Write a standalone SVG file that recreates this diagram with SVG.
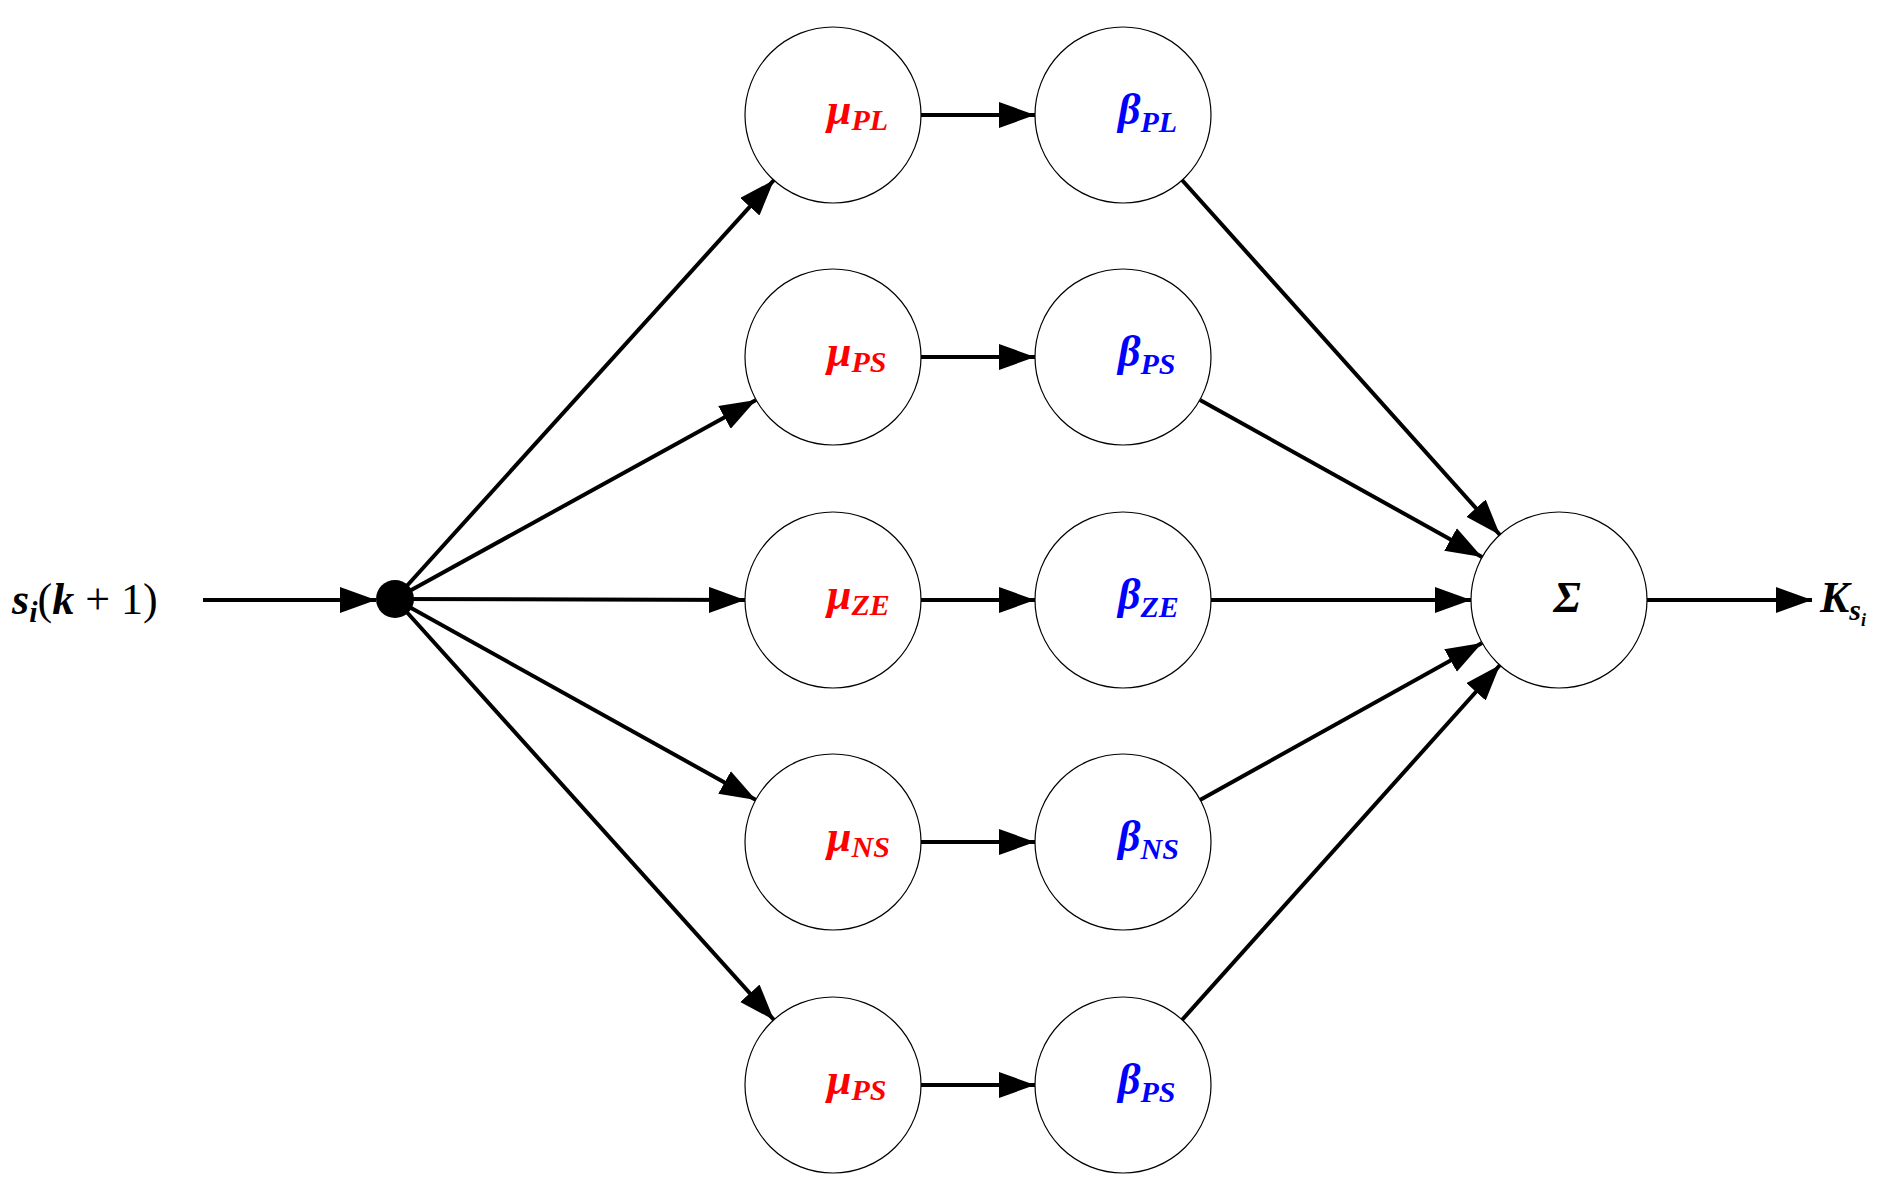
<svg xmlns="http://www.w3.org/2000/svg" width="1892" height="1191" viewBox="0 0 1892 1191">
<style>
.n{fill:#fff;stroke:#000;stroke-width:1.2}
.c line{stroke:#000;stroke-width:4;marker-end:url(#a)}
text{font-family:"Liberation Serif","DejaVu Serif",serif;font-size:44px;font-style:italic;font-weight:bold}
.m{fill:#f00}.b{fill:#00f}
.s{font-size:30px}
</style>
<defs><marker id="a" markerUnits="userSpaceOnUse" markerWidth="38" markerHeight="28" refX="36" refY="13" orient="auto"><path d="M0,0 L36,13 L0,26 z"/></marker></defs>
<rect width="1892" height="1191" fill="#fff"/>
<g class="c" id="connectors">
<line x1="203" y1="600" x2="376" y2="600"/>
<line x1="395" y1="599" x2="774" y2="180"/>
<line x1="395" y1="599" x2="756" y2="400"/>
<line x1="395" y1="599" x2="745" y2="600"/>
<line x1="395" y1="599" x2="756" y2="800"/>
<line x1="395" y1="599" x2="774" y2="1020"/>
<line x1="921" y1="115" x2="1035" y2="115"/>
<line x1="921" y1="357" x2="1035" y2="357"/>
<line x1="921" y1="600" x2="1035" y2="600"/>
<line x1="921" y1="842" x2="1035" y2="842"/>
<line x1="921" y1="1085" x2="1035" y2="1085"/>
<line x1="1182" y1="180" x2="1500" y2="535"/>
<line x1="1200" y1="400" x2="1482" y2="557"/>
<line x1="1211" y1="600" x2="1471" y2="600"/>
<line x1="1200" y1="800" x2="1482" y2="643"/>
<line x1="1182" y1="1020" x2="1500" y2="665"/>
<line x1="1647" y1="600" x2="1812" y2="600"/>
</g>
<g id="input"><text x="12" y="614" font-weight="normal">s<tspan class="s" dy="8">i</tspan><tspan dy="-8" font-style="normal" font-weight="normal">(</tspan>k<tspan font-style="normal" font-weight="normal"> + 1)</tspan></text></g>
<g id="dot"><circle cx="395" cy="599" r="19"/></g>
<g id="mu1"><circle class="n" cx="833" cy="115" r="88"/><text class="m" x="827" y="124">μ<tspan class="s" dy="6">PL</tspan></text></g>
<g id="mu2"><circle class="n" cx="833" cy="357" r="88"/><text class="m" x="827" y="366">μ<tspan class="s" dy="6">PS</tspan></text></g>
<g id="mu3"><circle class="n" cx="833" cy="600" r="88"/><text class="m" x="827" y="609">μ<tspan class="s" dy="6">ZE</tspan></text></g>
<g id="mu4"><circle class="n" cx="833" cy="842" r="88"/><text class="m" x="827" y="851">μ<tspan class="s" dy="6">NS</tspan></text></g>
<g id="mu5"><circle class="n" cx="833" cy="1085" r="88"/><text class="m" x="827" y="1094">μ<tspan class="s" dy="6">PS</tspan></text></g>
<g id="b1"><circle class="n" cx="1123" cy="115" r="88"/><text class="b" x="1118" y="124">β<tspan class="s" dy="8">PL</tspan></text></g>
<g id="b2"><circle class="n" cx="1123" cy="357" r="88"/><text class="b" x="1118" y="366">β<tspan class="s" dy="8">PS</tspan></text></g>
<g id="b3"><circle class="n" cx="1123" cy="600" r="88"/><text class="b" x="1118" y="609">β<tspan class="s" dy="8">ZE</tspan></text></g>
<g id="b4"><circle class="n" cx="1123" cy="842" r="88"/><text class="b" x="1118" y="851">β<tspan class="s" dy="8">NS</tspan></text></g>
<g id="b5"><circle class="n" cx="1123" cy="1085" r="88"/><text class="b" x="1118" y="1094">β<tspan class="s" dy="8">PS</tspan></text></g>
<g id="sum"><circle class="n" cx="1559" cy="600" r="88"/><text x="1567" y="612" text-anchor="middle" font-style="normal" font-weight="normal" font-size="34">Σ</text></g>
<g id="output"><text x="1820" y="612">K<tspan class="s" dy="8" font-size="26">s</tspan><tspan font-size="18" dy="6">i</tspan></text></g>
</svg>
